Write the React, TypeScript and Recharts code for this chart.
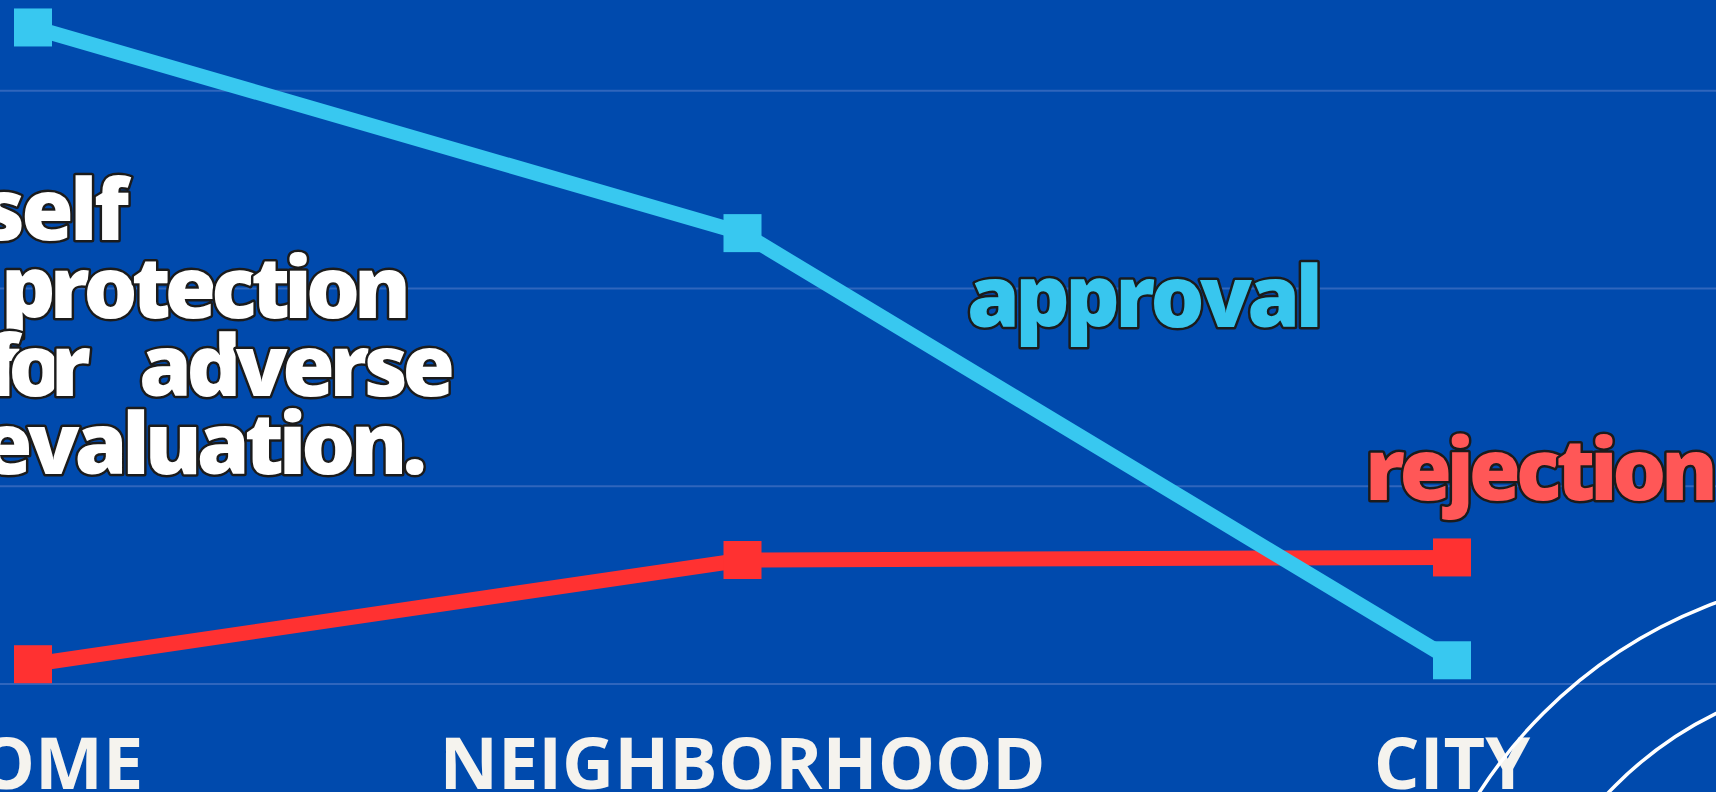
import React from 'react';
import { LineChart, Line, XAxis, YAxis, CartesianGrid } from 'recharts';

const categories = ['HOME', 'NEIGHBORHOOD', 'CITY'];
const approval = [33.2, 22.8, 1.2];
const rejection = [1.0, 6.27, 6.4];
const yTicks = [0, 10, 20, 30, 40];

const data = categories.map((c, i) => ({ cat: c, approval: approval[i], rejection: rejection[i] }));

const BG = '#004aad';
const CYAN = '#38c8f0';
const RED = '#ff3131';

const makeDot = (color: string) => (props: any) => {
  const { cx, cy, index } = props;
  if (cx == null || cy == null) return <g key={index} />;
  return <rect key={index} x={cx - 19} y={cy - 19} width={38} height={38} fill={color} />;
};

const Tick = (props: any) => {
  const { x, y, payload } = props;
  return (
    <text x={x} y={y + 105} textAnchor="middle" fontFamily="'Open Sans'" fontWeight={700} fontSize={72} fill="#f5f3ee">
      {payload.value}
    </text>
  );
};

const outline = { stroke: '#1b1b1b', strokeWidth: 5, paintOrder: 'stroke' as const, strokeLinejoin: 'round' as const };
const annoFont = { fontFamily: "'Open Sans'", fontWeight: 800, fontSize: 85 };

export default function App() {
  return (
    <div style={{ position: 'absolute', left: 0, top: 0, width: 1716, height: 792, overflow: 'hidden', background: BG }}>
      <div style={{ position: 'absolute', left: -100, top: -200 }}>
        <LineChart width={1900} height={1100} data={data} margin={{ top: 93, right: 0, bottom: 96, left: 0 }}>
          <CartesianGrid vertical={false} stroke="#2f66bd" strokeWidth={2} />
          <XAxis
            dataKey="cat"
            scale="point"
            padding={{ left: 133, right: 348 }}
            height={120}
            tickLine={false}
            axisLine={false}
            tickSize={0}
            tickMargin={0}
            interval={0}
            tick={<Tick />}
          />
          <YAxis hide type="number" domain={[0, 40]} ticks={yTicks} />
          <Line
            type="linear"
            dataKey="rejection"
            stroke={RED}
            strokeWidth={15}
            dot={makeDot(RED)}
            activeDot={false}
            isAnimationActive={false}
          />
          <Line
            type="linear"
            dataKey="approval"
            stroke={CYAN}
            strokeWidth={15}
            dot={makeDot(CYAN)}
            activeDot={false}
            isAnimationActive={false}
          />
        </LineChart>
      </div>
      <svg width={1716} height={792} style={{ position: 'absolute', left: 0, top: 0, pointerEvents: 'none' }}>
        <circle cx={1882} cy={1052} r={479} fill="none" stroke="#ffffff" strokeWidth={3.5} />
        <circle cx={1882} cy={1052} r={377} fill="none" stroke="#ffffff" strokeWidth={3.5} />
        <g {...annoFont} fill="#ffffff" {...outline}>
          <text x={-19} y={240} textLength={148} lengthAdjust="spacing">self</text>
          <text x={1} y={318} textLength={410} lengthAdjust="spacing">protection</text>
          <text x={-15} y={396} textLength={106} lengthAdjust="spacing">for</text>
          <text x={139} y={396} textLength={316} lengthAdjust="spacing">adverse</text>
          <text x={-20} y={474} textLength={447} lengthAdjust="spacing">evaluation.</text>
        </g>
        <text x={967} y={327} textLength={356} lengthAdjust="spacing" {...annoFont} fill="#38c6ee" {...outline}>approval</text>
        <text x={1365} y={500} textLength={353} lengthAdjust="spacing" {...annoFont} fill="#ff5757" {...outline}>rejection</text>
      </svg>
    </div>
  );
}
